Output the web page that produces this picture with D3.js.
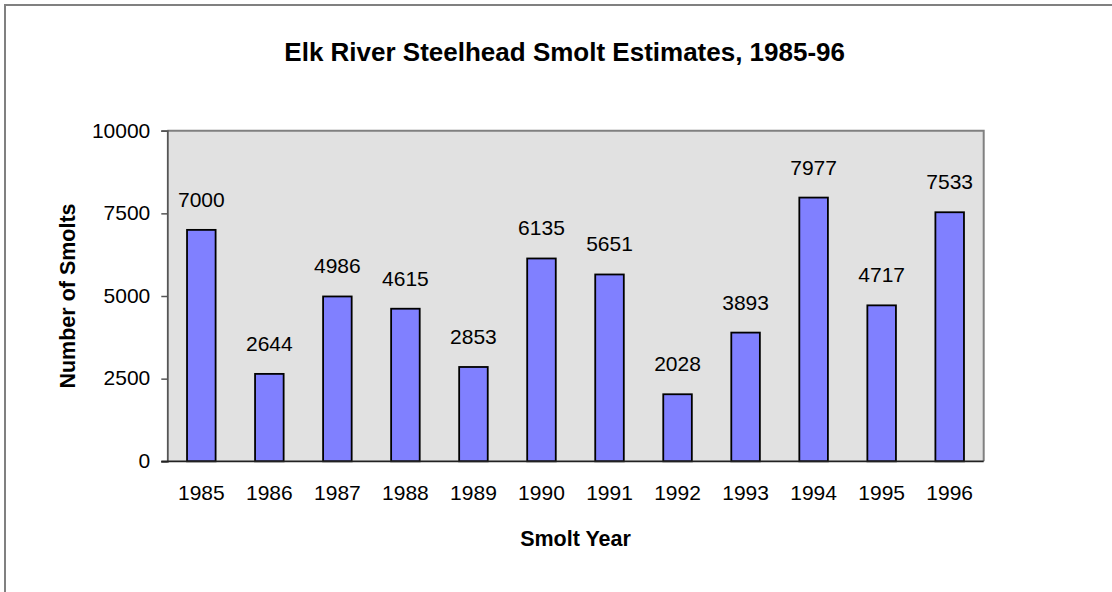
<!DOCTYPE html>
<html><head><meta charset="utf-8">
<script src="https://cdn.jsdelivr.net/npm/d3@7"></script>
<style>
html,body{margin:0;padding:0;background:#fff;}
svg{display:block;font-family:"Liberation Sans",Arial,sans-serif;}
</style></head>
<body><svg id="c" width="1112" height="592"></svg>
<script>
const years = ["1985","1986","1987","1988","1989","1990","1991","1992","1993","1994","1995","1996"];
const smolts = [7000,2644,4986,4615,2853,6135,5651,2028,3893,7977,4717,7533];
const yTicks = [0,2500,5000,7500,10000];
const titleText = "Elk River Steelhead Smolt Estimates, 1985-96";
const xTitle = "Smolt Year";
const yTitle = "Number of Smolts";

const svg = d3.select("#c");
const L=167.3, R=983.7, T=130.7, B=461.3;

// outer chart border (clipped at right/bottom)
svg.append("rect").attr("x",5).attr("y",5).attr("width",1120).attr("height",600)
  .attr("fill","#fff").attr("stroke","#808080").attr("stroke-width",2);

const x = d3.scaleBand().domain(years).range([L,R]).paddingInner(0.58).paddingOuter(0.29);
const y = d3.scaleLinear().domain([0,10000]).range([B,T]);

// plot area
svg.append("rect").attr("x",L).attr("y",T).attr("width",R-L).attr("height",B-T)
  .attr("fill","#e1e1e1");
svg.append("path").attr("d",`M${L},${T}H${R}V${B}`).attr("fill","none")
  .attr("stroke","#808080").attr("stroke-width",2);

// bars
svg.append("g").selectAll("rect").data(smolts).join("rect")
  .attr("x",(d,i)=>x(years[i])).attr("width",x.bandwidth())
  .attr("y",d=>y(d)).attr("height",d=>y(0)-y(d))
  .attr("fill","#8080ff").attr("stroke","#000").attr("stroke-width",1.8);

// data labels
svg.append("g").selectAll("text").data(smolts).join("text")
  .attr("x",(d,i)=>x(years[i])+x.bandwidth()/2).attr("y",d=>y(d)-23)
  .attr("text-anchor","middle").attr("font-size",21).attr("fill","#000")
  .text(d=>d);

// y axis
const yAxis = d3.axisLeft(y).tickValues(yTicks).tickSize(6).tickPadding(11).tickFormat(d3.format("d"));
const gy = svg.append("g").attr("transform",`translate(${L},0)`).call(yAxis);
gy.select(".domain").attr("stroke","#555").attr("stroke-width",1.8);
gy.selectAll(".tick line").attr("stroke","#555").attr("stroke-width",1.5);
gy.selectAll(".tick text").attr("font-size",21).attr("fill","#000").attr("font-family","Liberation Sans, Arial, sans-serif").attr("dy","0.3em");

// x axis
const xAxis = d3.axisBottom(x).tickSize(0).tickPadding(24);
const gx = svg.append("g").attr("transform",`translate(0,${B})`).call(xAxis);
gx.select(".domain").attr("stroke","#222").attr("stroke-width",1.8).attr("d",`M${L-6},0H${R}`);
gx.selectAll(".tick text").attr("font-size",21).attr("fill","#000").attr("font-family","Liberation Sans, Arial, sans-serif");

// titles
svg.append("text").attr("x",564.7).attr("y",61).attr("text-anchor","middle")
  .attr("font-size",26).attr("font-weight","bold").text(titleText);
svg.append("text").attr("x",(L+R)/2).attr("y",546).attr("text-anchor","middle")
  .attr("font-size",21.5).attr("font-weight","bold").text(xTitle);
svg.append("text").attr("transform",`translate(75,${(T+B)/2}) rotate(-90)`).attr("text-anchor","middle")
  .attr("font-size",21.5).attr("font-weight","bold").text(yTitle);
</script></body></html>
